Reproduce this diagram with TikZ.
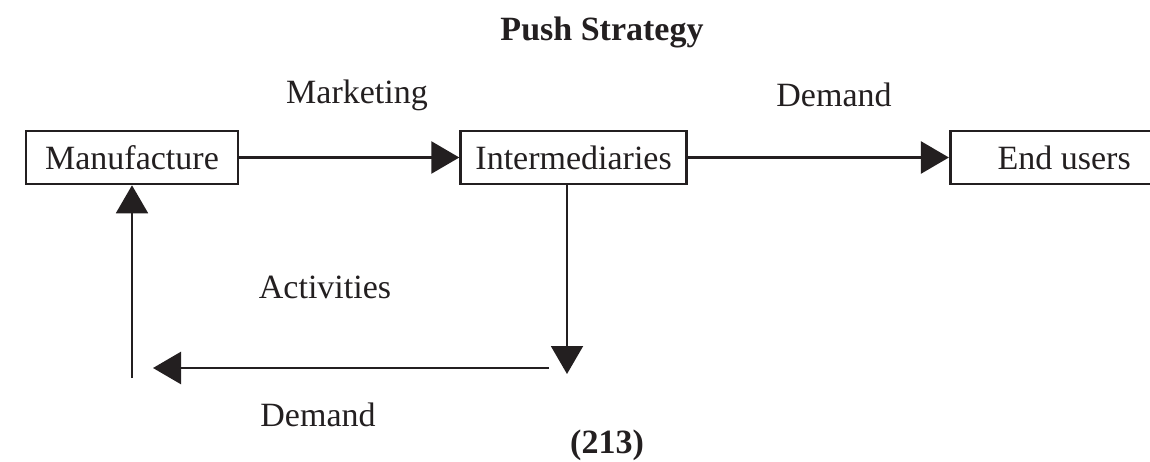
\documentclass[tikz,border=0pt]{standalone}
\usepackage{fontspec}
\setmainfont{Liberation Serif}
\usetikzlibrary{arrows.meta}
\usetikzlibrary{positioning}
\definecolor{ink}{HTML}{231F20}
\tikzset{
  stage/.style={
    draw,
    ink,
    text=ink,
    rectangle,
    minimum height=53pt,
    inner sep=0,
    line width=2.6pt,
    node font=\fontsize{34}{40}\selectfont,
  },
  flow/.style={
    draw,
    ink,
    line width=2.6pt,
    -{Triangle[length=28pt,width=32pt]},
  },
  caption/.style={
    text=ink,
    inner sep=0,
    node font=\fontsize{34}{40}\selectfont,
  },
  heading/.style={
    caption,
    node font=\fontsize{34}{40}\selectfont\bfseries,
  }
}
\begin{document}
\begin{tikzpicture}[x=1pt,y=-1pt]
  \useasboundingbox (0,0) rectangle (1150,462);

  \node (manufacture)    [stage,minimum width=212pt] at (132,157.5) {Manufacture};
  \node (intermediaries) [stage,minimum width=226pt,right=220pt of manufacture] {Intermediaries};
  \node (endusers)       [stage,minimum width=228pt,right=261pt of intermediaries] {End users};

  \coordinate (downtip)  at (567,374);
  \coordinate (backfrom) at (549,368);
  \coordinate (backtip)  at (153,368);
  \coordinate (upfrom)   at (manufacture.south |- 0,378);

  \path [flow] (manufacture) -- (intermediaries);
  \path [flow] (intermediaries) -- (endusers);
  \path [flow,line width=2pt] (intermediaries.south -| downtip) -- (downtip);
  \path [flow] (backfrom) -- (backtip);
  \path [flow,line width=2pt] (upfrom) -- (manufacture.south);

  \node (title)      [heading] at (602,32)  {Push Strategy};
  \node (marketing)  [caption] at (357,95)  {Marketing};
  \node (demand top) [caption] at (834,95)  {Demand};
  \node (activities) [caption] at (325,287) {Activities};
  \node (demand low) [caption] at (318,415) {Demand};
  \node (page)       [heading] at (607,445) {(213)};
\end{tikzpicture}
\end{document}
